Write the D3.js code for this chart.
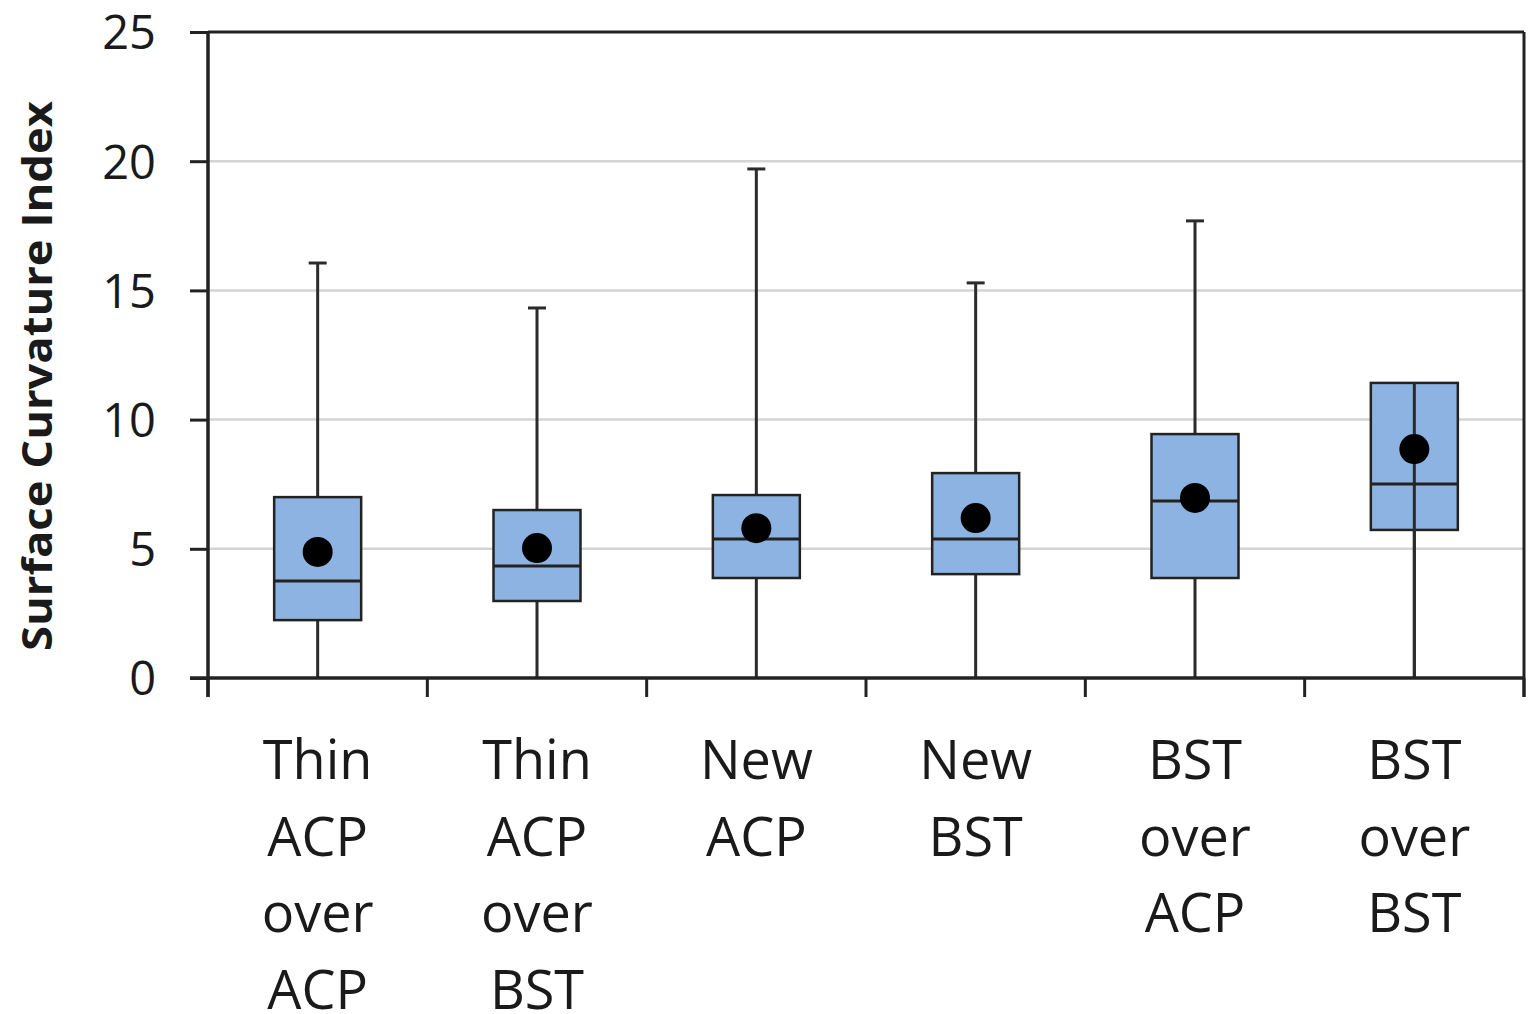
<!DOCTYPE html>
<html>
<head>
<meta charset="utf-8">
<script src="https://cdn.jsdelivr.net/npm/d3@7"></script>
<style>
  body { margin: 0; background: #fff; }
  text { font-family: "Open Sans", sans-serif; fill: #1a1a1a; }
</style>
</head>
<body>
<svg id="chart" width="1528" height="1014"></svg>
<script>
// categories, each label split into lines
var categories = ["Thin ACP over ACP", "Thin ACP over BST", "New ACP", "New BST", "BST over ACP", "BST over BST"];
// box stats
var whisker_lo = [0, 0, 0, 0, 0, 0];
var q1 = [2.24, 2.98, 3.87, 4.02, 3.87, 5.73];
var median = [3.75, 4.33, 5.38, 5.38, 6.85, 7.51];
var q3 = [7.0, 6.5, 7.08, 7.93, 9.44, 11.42];
var whisker_hi = [16.06, 14.32, 19.7, 15.29, 17.69, 11.42];
var mean = [4.88, 5.03, 5.8, 6.19, 6.97, 8.86];
var y_ticks = [0, 5, 10, 15, 20, 25];

var svg = d3.select("#chart");
var plot_l = 208, plot_r = 1524, plot_t = 32, plot_b = 678;

var x = d3.scaleBand().domain(categories).range([plot_l, plot_r]);
var y = d3.scaleLinear().domain([0, 25]).range([plot_b, plot_t]);

//gridlines
svg.append("g")
  .selectAll("line")
  .data(y_ticks.slice(1, -1))
  .enter().append("line")
  .attr("x1", plot_l).attr("x2", plot_r)
  .attr("y1", function(d){ return y(d); })
  .attr("y2", function(d){ return y(d); })
  .attr("stroke", "#d4d4d4")
  .attr("stroke-width", 2.5);

var boxes = svg.append("g");
var w = 87;
categories.forEach(function(c, i){
  var cx = x(c) + x.bandwidth()/2;
  var g = boxes.append("g");
  // whisker under the box
  g.append("line")
    .attr("x1", cx).attr("x2", cx)
    .attr("y1", y(whisker_lo[i])).attr("y2", y(whisker_hi[i]))
    .attr("stroke", "#2b2b2b").attr("stroke-width", 3);
  if (whisker_hi[i] > q3[i]) {
    g.append("line")
      .attr("x1", cx - 9).attr("x2", cx + 9)
      .attr("y1", y(whisker_hi[i])).attr("y2", y(whisker_hi[i]))
      .attr("stroke", "#2b2b2b").attr("stroke-width", 3);
  }
  g.append("rect")
    .attr("x", cx - w/2).attr("width", w)
    .attr("y", y(q3[i])).attr("height", y(q1[i]) - y(q3[i]))
    .attr("fill", "#8db3e2")
    .attr("stroke", "#222").attr("stroke-width", 2.5);
  // last one has its whisker drawn through the box
  if (i == categories.length - 1) {
    g.append("line")
      .attr("x1", cx).attr("x2", cx)
      .attr("y1", y(whisker_lo[i])).attr("y2", y(q3[i]))
      .attr("stroke", "#2b2b2b").attr("stroke-width", 3);
  }
  g.append("line")
    .attr("x1", cx - w/2).attr("x2", cx + w/2)
    .attr("y1", y(median[i])).attr("y2", y(median[i]))
    .attr("stroke", "#222").attr("stroke-width", 3);
  g.append("circle")
    .attr("cx", cx).attr("cy", y(mean[i])).attr("r", 15)
    .attr("fill", "#000");
});

// axes
var yAxis = d3.axisLeft(y).tickValues(y_ticks).tickSize(18).tickPadding(34);
svg.append("g")
  .attr("transform", "translate(" + plot_l + ",0)")
  .call(yAxis)
  .call(function(g){
    g.select(".domain").remove();
    g.selectAll(".tick line").attr("stroke", "#222").attr("stroke-width", 3);
    g.selectAll("text").style("font-size", "47px").attr("dy", "0.36em").attr("fill", "#1a1a1a");
  });

// frame
svg.append("line").attr("x1", plot_l).attr("x2", plot_l).attr("y1", plot_t).attr("y2", plot_b + 19)
  .attr("stroke", "#222").attr("stroke-width", 3.5);
svg.append("line").attr("x1", plot_r).attr("x2", plot_r).attr("y1", plot_t).attr("y2", plot_b + 19)
  .attr("stroke", "#222").attr("stroke-width", 3);
svg.append("line").attr("x1", plot_l).attr("x2", plot_r).attr("y1", plot_t).attr("y2", plot_t)
  .attr("stroke", "#222").attr("stroke-width", 3);
svg.append("line").attr("x1", plot_l - 18).attr("x2", plot_r).attr("y1", plot_b).attr("y2", plot_b)
  .attr("stroke", "#222").attr("stroke-width", 3.5);

// x ticks at band edges
var edges = categories.map(function(c){ return x(c); }).concat([plot_r]);
svg.append("g").selectAll("line")
  .data(edges)
  .enter().append("line")
  .attr("x1", function(d){ return d; }).attr("x2", function(d){ return d; })
  .attr("y1", plot_b).attr("y2", plot_b + 19)
  .attr("stroke", "#222").attr("stroke-width", 3);

// category labels
svg.append("g").selectAll("text")
  .data(categories)
  .enter().append("text")
  .attr("text-anchor", "middle")
  .attr("transform", function(d){ return "translate(" + (x(d) + x.bandwidth()/2) + ",779)"; })
  .style("font-size", "54px")
  .each(function(d){
    var words = d.split(" ");
    var t = d3.select(this);
    words.forEach(function(wd, k){
      t.append("tspan").attr("x", 0).attr("y", k*76.5).text(wd);
    });
  });

// y title
svg.append("text")
  .attr("transform", "translate(52,376) rotate(-90)")
  .attr("text-anchor", "middle")
  .attr("textLength", 550)
  .attr("lengthAdjust", "spacingAndGlyphs")
  .style("font-size", "41px")
  .style("font-weight", "bold")
  .text("Surface Curvature Index");
</script>
</body>
</html>
